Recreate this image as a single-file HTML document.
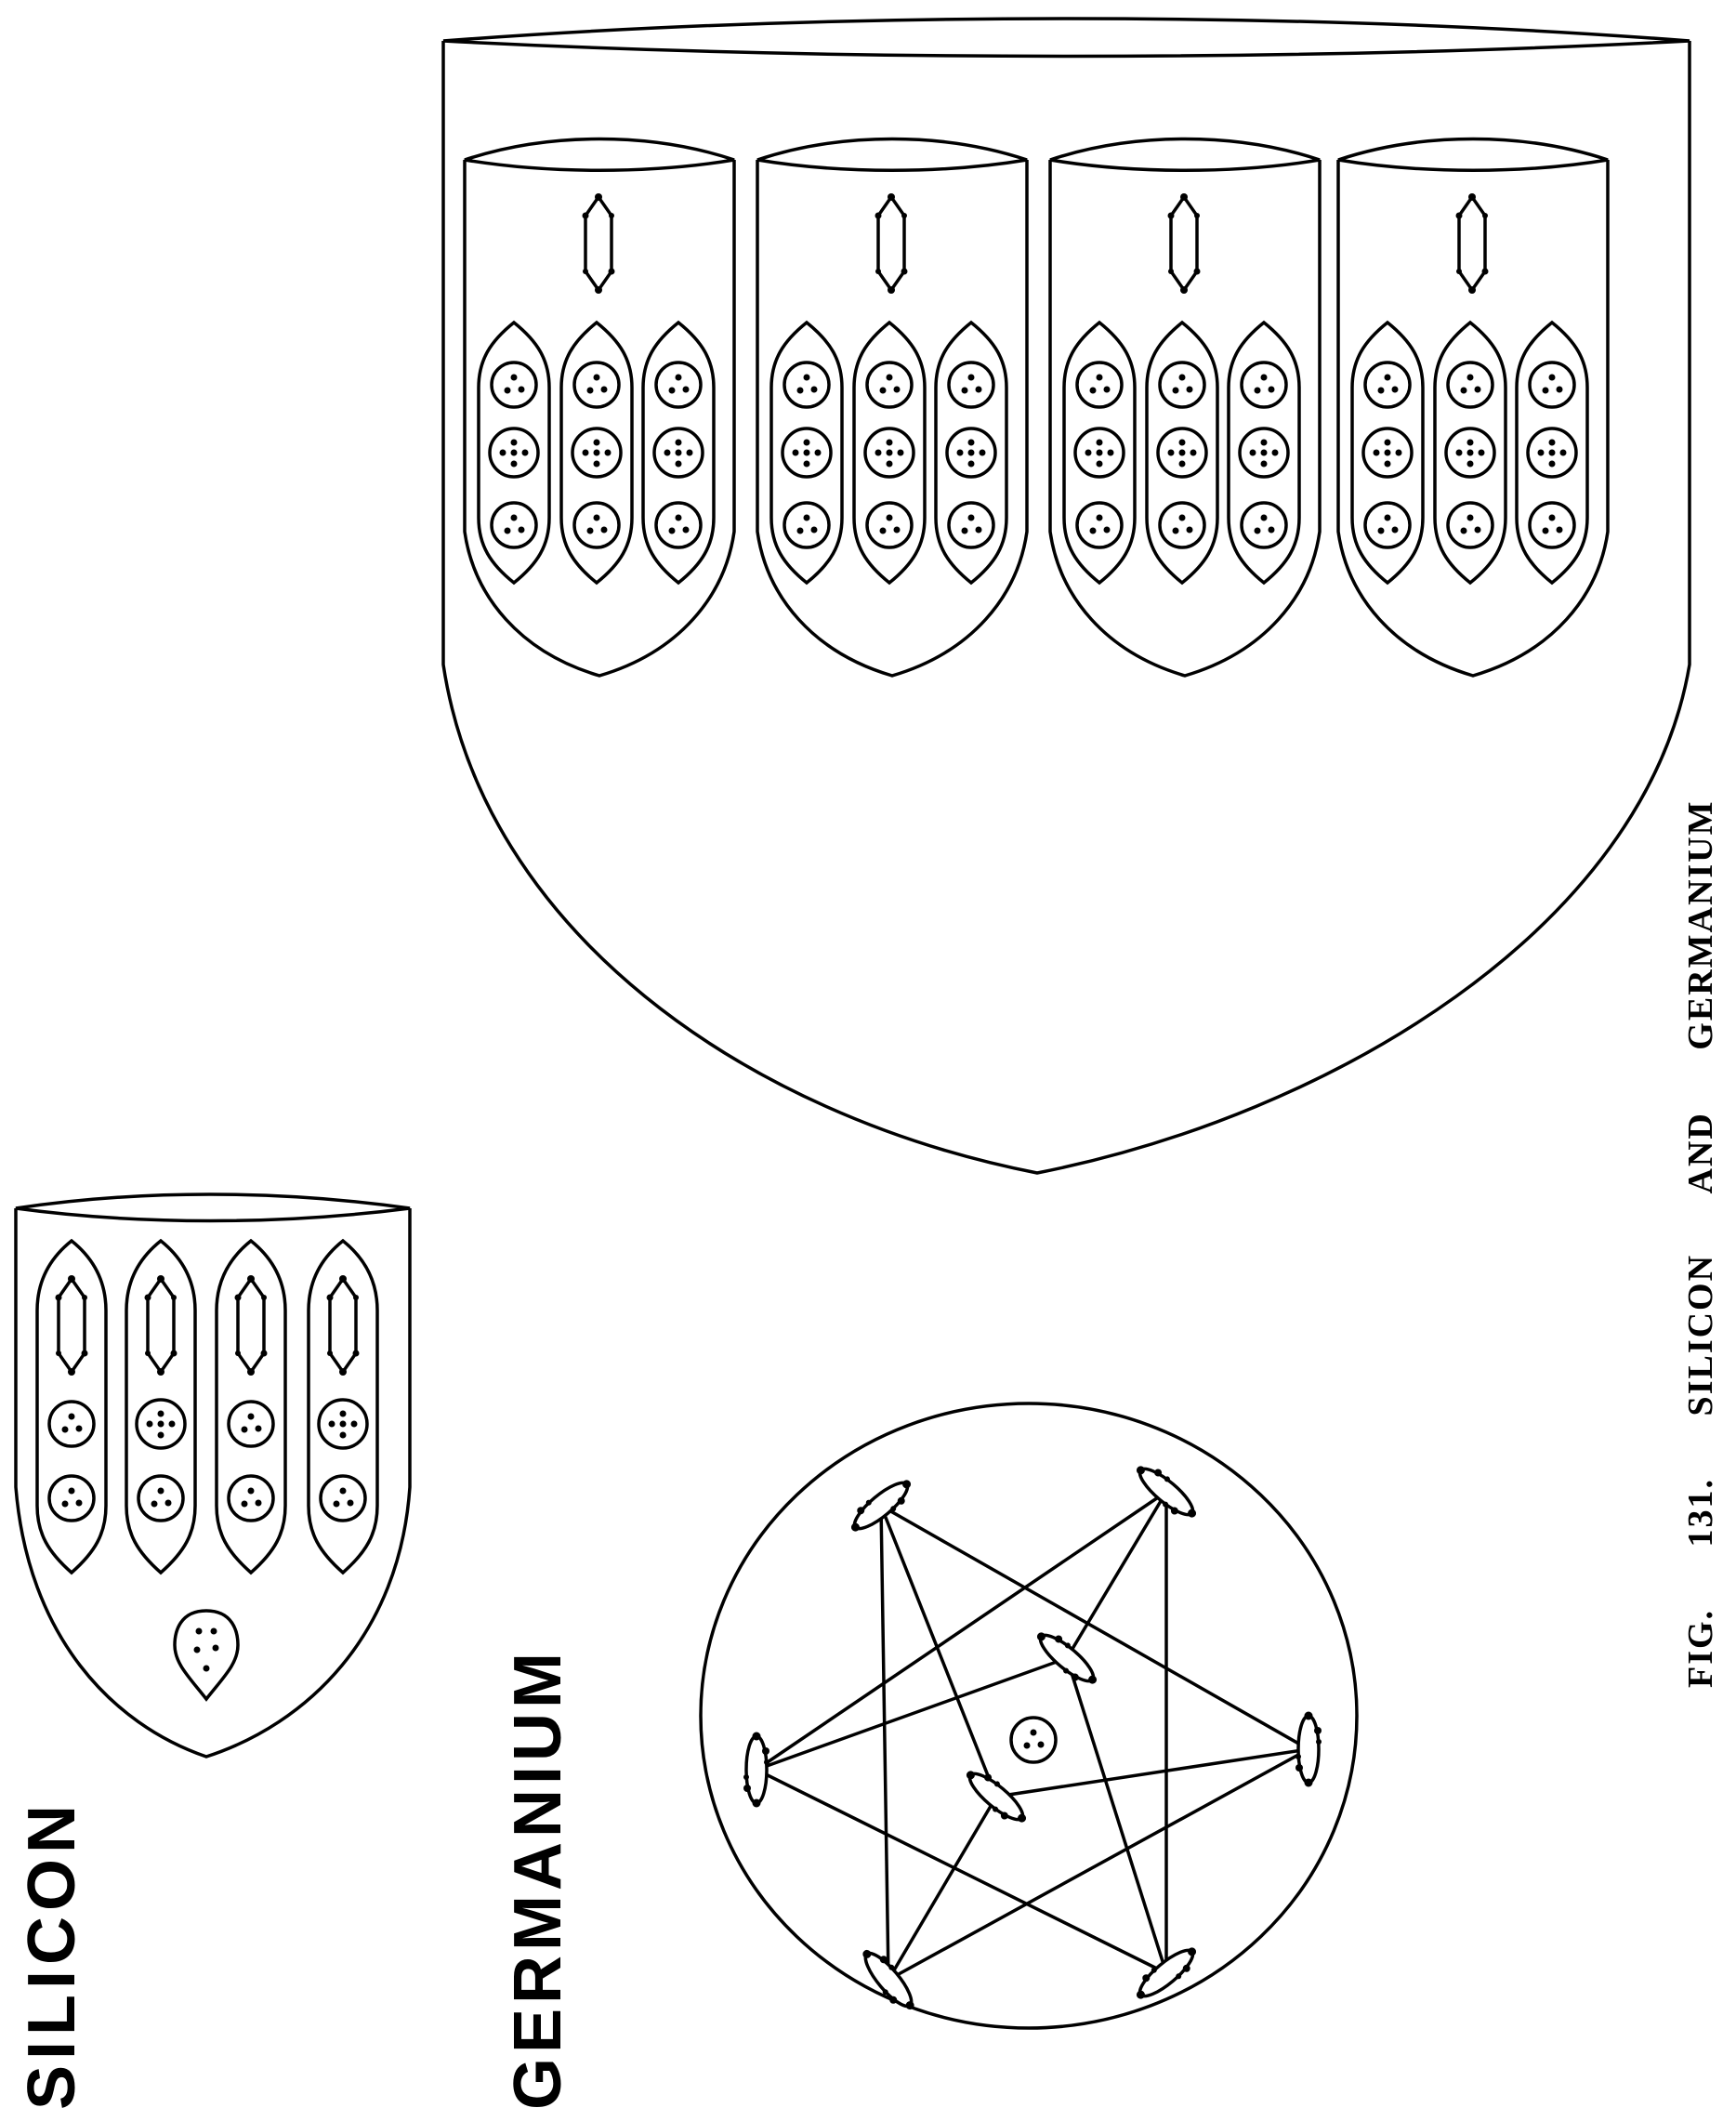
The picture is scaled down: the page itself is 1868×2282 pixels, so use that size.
<!DOCTYPE html>
<html><head><meta charset="utf-8"><style>
html,body{margin:0;padding:0;background:#fff;}
svg{display:block;}
text{fill:#000;}
</style></head><body>
<svg width="1868" height="2282" viewBox="0 0 1868 2282" xmlns="http://www.w3.org/2000/svg">
<defs>
<g id="dia">
  <path d="M0,-50 L-14,-30 L-14,30 L0,50 L14,30 L14,-30 Z" fill="#fff" stroke="#000" stroke-width="3.5"/>
  <circle cx="0" cy="-50" r="4"/><circle cx="0" cy="50" r="4"/>
  <circle cx="-14" cy="-30" r="3.5"/><circle cx="14" cy="30" r="3.5"/>
  <circle cx="14" cy="-30" r="3"/><circle cx="-14" cy="30" r="3"/>
</g>
<g id="c3"><circle r="24" fill="#fff" stroke="#000" stroke-width="3.5"/><circle cx="0" cy="-8" r="3.5"/><circle cx="-7" cy="6" r="3.5"/><circle cx="8" cy="5" r="3.5"/></g>
<g id="c5"><circle r="26" fill="#fff" stroke="#000" stroke-width="3.5"/><circle cx="0" cy="-11" r="3.5"/><circle cx="-12" cy="0" r="3.5"/><circle cx="0" cy="0" r="3.5"/><circle cx="12" cy="0" r="3.5"/><circle cx="0" cy="12" r="3.5"/></g>
<g id="pod">
  <path d="M0,-140 C25,-120 38,-100 38,-70 L38,70 C38,100 25,120 0,140 C-25,120 -38,100 -38,70 L-38,-70 C-38,-100 -25,-120 0,-140 Z" fill="#fff" stroke="#000" stroke-width="3.5"/>
  <use href="#c3" y="-73"/><use href="#c5" y="0"/><use href="#c3" y="78"/>
</g>
<g id="spod">
  <path d="M0,1335 C25,1355 37,1380 37,1410 L37,1620 C37,1650 25,1670 0,1692 C-25,1670 -37,1650 -37,1620 L-37,1410 C-37,1380 -25,1355 0,1335 Z" fill="#fff" stroke="#000" stroke-width="3.5"/>
  <use href="#dia" x="0" y="1426"/>
</g>
<g id="inner">
  <path d="M0,30 L0,430 C10,500 60,560 145,585 C230,560 280,500 290,430 L290,30" fill="#fff" stroke="#000" stroke-width="3.5"/>
  <path d="M0,30 C90,0 200,0 290,30 C200,45 90,45 0,30 Z" fill="#fff" stroke="#000" stroke-width="3.5"/>
  <use href="#dia" x="144" y="120"/>
  <use href="#pod" x="53" y="345"/><use href="#pod" x="142" y="345"/><use href="#pod" x="230" y="345"/>
</g>
<g id="node">
  <ellipse rx="36" ry="11" fill="#fff" stroke="#000" stroke-width="3.5"/>
  <circle cx="-36" cy="0" r="4.5"/><circle cx="36" cy="0" r="4.5"/><circle cx="-20" cy="-10" r="4"/><circle cx="20" cy="10" r="4"/><circle cx="-8" cy="-11" r="3"/><circle cx="8" cy="11" r="3"/>
</g>
</defs>

<path d="M477,44 L477,715 C520,1000 800,1200 1116,1262 C1430,1200 1770,1000 1818,715 L1818,44" fill="#fff" stroke="#000" stroke-width="3.5"/>
<path d="M477,44 C900,12 1400,12 1818,44 C1400,66 900,66 477,44 Z" fill="#fff" stroke="#000" stroke-width="3.5"/>

<use href="#inner" x="500" y="142"/>
<use href="#inner" x="815" y="142"/>
<use href="#inner" x="1130" y="142"/>
<use href="#inner" x="1440" y="142"/>

<path d="M17,1300 L17,1600 C30,1760 120,1855 222,1890 C330,1855 430,1760 441,1600 L441,1300" fill="#fff" stroke="#000" stroke-width="3.5"/>
<path d="M17,1300 C150,1280 300,1280 441,1300 C300,1318 150,1318 17,1300 Z" fill="#fff" stroke="#000" stroke-width="3.5"/>
<g transform="translate(77,0)"><use href="#spod"/><use href="#c3" y="1532"/><use href="#c3" y="1612"/></g>
<g transform="translate(173,0)"><use href="#spod"/><use href="#c5" y="1532"/><use href="#c3" y="1612"/></g>
<g transform="translate(270,0)"><use href="#spod"/><use href="#c3" y="1532"/><use href="#c3" y="1612"/></g>
<g transform="translate(369,0)"><use href="#spod"/><use href="#c5" y="1532"/><use href="#c3" y="1612"/></g>
<path d="M222,1733 C250,1733 256,1755 256,1770 C256,1790 240,1805 222,1828 C204,1805 188,1790 188,1770 C188,1755 194,1733 222,1733 Z" fill="#fff" stroke="#000" stroke-width="3.5"/>
<circle cx="214" cy="1755" r="3.5"/><circle cx="230" cy="1755" r="3.5"/><circle cx="212" cy="1775" r="3.5"/><circle cx="232" cy="1773" r="3.5"/><circle cx="222" cy="1795" r="3.5"/>

<ellipse cx="1107" cy="1846" rx="353" ry="336" fill="#fff" stroke="#000" stroke-width="3.5"/>
<g stroke="#000" stroke-width="3.5" fill="none">
  <line x1="948" y1="1620" x2="956" y2="2130"/>
  <line x1="948" y1="1620" x2="1408" y2="1882"/>
  <line x1="948" y1="1620" x2="1072" y2="1933"/>
  <line x1="1255" y1="1605" x2="1255" y2="2123"/>
  <line x1="1255" y1="1605" x2="814" y2="1904"/>
  <line x1="1255" y1="1605" x2="1148" y2="1784"/>
  <line x1="956" y1="2130" x2="1408" y2="1882"/>
  <line x1="956" y1="2130" x2="1072" y2="1933"/>
  <line x1="1255" y1="2123" x2="814" y2="1904"/>
  <line x1="1255" y1="2123" x2="1148" y2="1784"/>
  <line x1="814" y1="1904" x2="1148" y2="1784"/>
  <line x1="1408" y1="1882" x2="1072" y2="1933"/>
</g>
<use href="#node" transform="translate(948,1620) rotate(-40)"/>
<use href="#node" transform="translate(1255,1605) rotate(40)"/>
<use href="#node" transform="translate(814,1904) rotate(90)"/>
<use href="#node" transform="translate(1408,1882) rotate(90)"/>
<use href="#node" transform="translate(956,2130) rotate(50)"/>
<use href="#node" transform="translate(1255,2123) rotate(-40)"/>
<use href="#node" transform="translate(1148,1784) rotate(40)"/>
<use href="#node" transform="translate(1072,1933) rotate(40)"/>
<use href="#c3" x="1112" y="1872"/>

<text transform="translate(80,2270) rotate(-90)" font-family="Liberation Sans, sans-serif" font-weight="bold" font-size="72" letter-spacing="6">SILICON</text>
<text transform="translate(603,2270) rotate(-90)" font-family="Liberation Sans, sans-serif" font-weight="bold" font-size="72" letter-spacing="5">GERMANIUM</text>
<text transform="translate(1842,1816) rotate(-90)" font-family="Liberation Serif, serif" font-weight="bold" font-size="38" letter-spacing="2" word-spacing="55">FIG. 131. SILICON AND GERMANIUM</text>
</svg>
</body></html>
